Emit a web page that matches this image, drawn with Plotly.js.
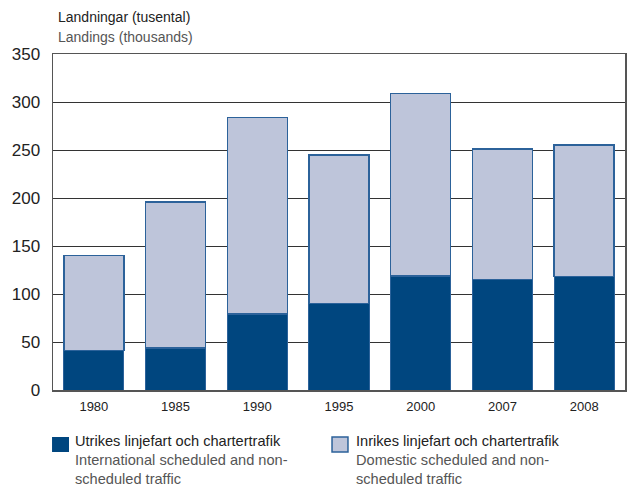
<!DOCTYPE html>
<html><head><meta charset="utf-8">
<script src="https://cdn.plot.ly/plotly-3.0.1.min.js"></script>
<style>html,body{margin:0;padding:0;background:#fff}#c{width:641px;height:489px}</style>
</head><body><div id="c"></div>
<script>
const years = ['1980','1985','1990','1995','2000','2007','2008'];
const international = [41, 44, 79, 90, 119, 115, 118];
const domestic = [99, 152, 205, 155, 190, 136, 137];
const yTicks = [0, 50, 100, 150, 200, 250, 300, 350];
const intlLabel = 'Utrikes linjefart och chartertrafik<br><span style="color:#555">International scheduled and non-<br>scheduled traffic</span>';
const domLabel = 'Inrikes linjefart och chartertrafik<br><span style="color:#555">Domestic scheduled and non-<br>scheduled traffic</span>';
const intlColor = '#00467f', domColor = '#bec5da', edgeColor = '#2c629a';

const font = "Liberation Sans, Arial, Helvetica, sans-serif";
const data = [
  {type:'bar', x: years, y: international, name:'Utrikes',
   marker:{color:intlColor, line:{color:edgeColor, width:1}}},
  {type:'bar', x: years, y: domestic, name:'Inrikes',
   marker:{color:domColor, line:{color:edgeColor, width:1.5}}}
];
const layout = {
  width:641, height:489,
  barmode:'stack', bargap:0.265,
  margin:{l:53, r:16, t:54, b:99},
  paper_bgcolor:'#fff', plot_bgcolor:'#fff',
  font:{family:font, color:'#222'},
  showlegend:false,
  xaxis:{type:'category', showline:true, linecolor:'#555', linewidth:1.5, mirror:true,
         ticks:'', tickfont:{size:13, color:'#222'}, ticklabelstandoff:4, fixedrange:true},
  yaxis:{range:[0,350], tickvals: yTicks, showline:true, linecolor:'#555', linewidth:1.5, mirror:true,
         showgrid:true, gridcolor:'#333', gridwidth:1, zeroline:false,
         ticks:'', ticklen:0, tickfont:{size:17, color:'#222'}, ticklabelstandoff:8},
  shapes:[
    {type:'rect', xref:'paper', yref:'paper', x0:-0.0017, x1:0.028, y0:-0.1845, y1:-0.1399,
     fillcolor:intlColor, line:{width:0}},
    {type:'rect', xref:'paper', yref:'paper', x0:0.4878, x1:0.5157, y0:-0.1845, y1:-0.1399,
     fillcolor:domColor, line:{color:edgeColor, width:1.5}}
  ],
  annotations:[
    {xref:'paper', yref:'paper', x:0.005, y:1.110, xanchor:'left', yanchor:'middle',
     text:'Landningar (tusental)', showarrow:false, font:{size:14, color:'#222', family:font}},
    {xref:'paper', yref:'paper', x:0.005, y:1.0506, xanchor:'left', yanchor:'middle',
     text:'Landings (thousands)', showarrow:false, font:{size:14, color:'#555', family:font}},
    {xref:'paper', yref:'paper', x:0.035, y:-0.122, xanchor:'left', yanchor:'top', align:'left',
     text:intlLabel, showarrow:false, font:{size:14.6, color:'#222', family:font}},
    {xref:'paper', yref:'paper', x:0.526, y:-0.122, xanchor:'left', yanchor:'top', align:'left',
     text:domLabel, showarrow:false, font:{size:14.6, color:'#222', family:font}}
  ]
};
Plotly.newPlot('c', data, layout, {staticPlot:true});
</script></body></html>
